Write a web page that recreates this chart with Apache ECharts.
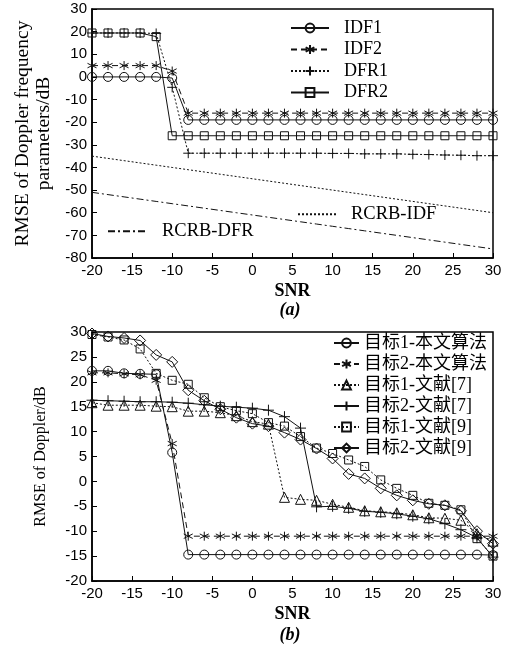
<!DOCTYPE html>
<html>
<head>
<meta charset="utf-8">
<script src="https://cdn.jsdelivr.net/npm/echarts@6/dist/echarts.min.js"></script>
<style>
html, body { margin: 0; padding: 0; background: #fff; }
#chart { width: 515px; height: 645px; }
</style>
</head>
<body>
<div id="chart"></div>
<script>
// SNR 采样点（两幅图共用）
const snr = [-20, -18, -16, -14, -12, -10, -8, -6, -4, -2, 0, 2, 4, 6, 8, 10, 12, 14, 16, 18, 20, 22, 24, 26, 28, 30];

// (a) 多普勒频率参数 RMSE
const idf1 = [0, 0, 0, 0, 0, -0.5, -19, -19, -19, -19, -19, -19, -19, -19, -19, -19, -19, -19, -19, -19, -19, -19, -19, -19, -19, -19];
const idf2 = [5, 5, 5, 5, 5, 2.6, -16, -16, -16, -16, -16, -16, -16, -16, -16, -16, -16, -16, -16, -16, -16, -16, -16, -16, -16, -16];
const dfr1 = [19.4, 19.4, 19.4, 19.4, 19.2, -4.6, -33.7, -33.7, -33.7, -33.7, -33.7, -33.7, -33.7, -33.7, -33.7, -33.8, -33.8, -34, -34, -34, -34.2, -34.3, -34.5, -34.6, -34.8, -34.8];
const dfr2 = [19.4, 19.4, 19.4, 19.4, 17.8, -26, -26, -26, -26, -26, -26, -26, -26, -26, -26, -26, -26, -26, -26, -26, -26, -26, -26, -26, -26, -26];
const rcrbIdf = [-35, -36, -37, -38, -39, -40, -41, -42, -43, -44, -45, -46, -47, -48, -49, -50, -51, -52, -53, -54, -55, -56, -57, -58, -59, -60];
const rcrbDfr = [-51, -52, -53, -54, -55, -56, -57, -58, -59, -60, -61, -62, -63, -64, -65, -66, -67, -68, -69, -70, -71, -72, -73, -74, -75, -76];

// (b) 多普勒 RMSE
const t1Ours = [22.2, 22.2, 21.7, 21.6, 21.5, 5.8, -14.7, -14.7, -14.7, -14.7, -14.7, -14.7, -14.7, -14.7, -14.7, -14.7, -14.7, -14.7, -14.7, -14.7, -14.7, -14.7, -14.7, -14.7, -14.7, -14.8];
const t2Ours = [21.8, 21.8, 21.6, 21.4, 20.3, 7.6, -11, -11, -11, -11, -11, -11, -11, -11, -11, -11, -11, -11, -11, -11, -11, -11, -11, -11, -11, -11];
const t1Ref7 = [15.8, 15.3, 15.3, 15.3, 15.1, 15.0, 14.1, 14.1, 13.8, 13.2, 12.0, 11.5, -3.2, -3.6, -3.8, -4.6, -5.2, -5.9, -6.1, -6.3, -6.7, -7.3, -7.4, -7.8, -10.5, -12.0];
const t2Ref7 = [16.3, 16.2, 16.1, 16.0, 16.0, 15.9, 15.7, 15.4, 15.1, 14.9, 14.7, 14.3, 13.0, 10.7, -5.1, -5.0, -5.4, -6.0, -6.2, -6.5, -7.0, -7.5, -8.5, -9.7, -11.3, -15.2];
const t1Ref9 = [29.5, 29.0, 28.4, 26.6, 21.7, 20.3, 19.5, 16.8, 15.0, 14.2, 13.6, 11.8, 11.1, 9.0, 6.7, 5.6, 4.3, 3.0, 0.3, -1.4, -2.8, -4.4, -4.8, -5.7, -11.5, -15.0];
const t2Ref9 = [29.7, 29.1, 28.8, 28.3, 25.4, 24.0, 18.3, 16.2, 14.5, 12.8, 11.6, 11.1, 9.8, 8.4, 6.6, 4.6, 1.5, 0.6, -1.4, -2.8, -3.8, -4.5, -4.8, -5.9, -10.0, -12.5];

const namesA = ['IDF1', 'IDF2', 'DFR1', 'DFR2'];
const namesB = ['目标1-本文算法', '目标2-本文算法', '目标1-文献[7]', '目标2-文献[7]', '目标1-文献[9]', '目标2-文献[9]'];

const PLUS = 'path://M5,0L5,10M0,5L10,5';
const STAR = 'path://M5,0L5,10M0.7,2.5L9.3,7.5M9.3,2.5L0.7,7.5';

const SERIF = '"Liberation Serif", "Noto Sans CJK SC", serif';
const SANS = '"Liberation Sans", Arial, sans-serif';
const INK = '#111';

function line(name, values, idx, symbol, size, type) {
    const bare = symbol === 'none'; // 无标记的界线，图例中也不画标记
    return {
        name: name,
        type: 'line',
        xAxisIndex: idx,
        yAxisIndex: idx,
        data: snr.map((s, i) => [s, values[i]]),
        symbol: bare ? 'circle' : symbol,
        symbolSize: size,
        showSymbol: !bare,
        lineStyle: { color: INK, width: 1, type: type },
        itemStyle: { color: 'rgba(255,255,255,0)', borderColor: bare ? 'rgba(0,0,0,0)' : INK, borderWidth: bare ? 0 : 1 },
        emphasis: { disabled: true },
        z: 3
    };
}

function axisX(idx) {
    return {
        type: 'value', gridIndex: idx, min: -20, max: 30, interval: 5,
        name: 'SNR', nameLocation: 'middle', nameGap: 24,
        nameTextStyle: { fontFamily: SERIF, fontWeight: 'bold', fontSize: 18, color: '#000', lineHeight: 18 },
        axisLine: { onZero: false, lineStyle: { color: '#000', width: 1.5 } },
        axisTick: { inside: true, length: 5, lineStyle: { color: '#000' } },
        axisLabel: { fontFamily: SANS, fontSize: 15, color: '#000', margin: 5 },
        splitLine: { show: false }
    };
}

function axisY(idx, min, max, interval, name, gap, size, lh) {
    return {
        type: 'value', gridIndex: idx, min: min, max: max, interval: interval,
        name: name, nameLocation: 'middle', nameGap: gap,
        nameTextStyle: { fontFamily: SERIF, fontSize: size, color: '#000', lineHeight: lh },
        axisLine: { onZero: false, lineStyle: { color: '#000', width: 1.5 } },
        axisTick: { inside: true, length: 5, lineStyle: { color: '#000' } },
        axisLabel: { fontFamily: SANS, fontSize: 15, color: '#000', margin: 5 },
        splitLine: { show: false }
    };
}

function legendText(size, pad) {
    return { fontFamily: SERIF, fontSize: size, color: '#000', lineHeight: size, padding: [0, 0, 0, pad] };
}

const chart = echarts.init(document.getElementById('chart'), null, { renderer: 'canvas' });

chart.setOption({
    animation: false,
    backgroundColor: '#fff',
    grid: [
        { left: 92, top: 9, width: 401, height: 249, show: true, borderColor: '#000', borderWidth: 1.5, backgroundColor: 'transparent' },
        { left: 92, top: 332, width: 401, height: 249, show: true, borderColor: '#000', borderWidth: 1.5, backgroundColor: 'transparent' }
    ],
    xAxis: [axisX(0), axisX(1)],
    yAxis: [
        axisY(0, -80, 30, 10, 'RMSE of Doppler frequency\nparameters/dB', 38, 19.5, 21),
        axisY(1, -20, 30, 5, 'RMSE of Doppler/dB', 42, 16, 18)
    ],
    legend: [
        {
            data: namesA, orient: 'vertical', left: 290, top: 19, padding: 0,
            itemWidth: 38, itemHeight: 11, itemGap: 3.5, selectedMode: false,
            textStyle: legendText(18, 10)
        },
        {
            data: ['RCRB-IDF'], left: 297, top: 205, padding: 0,
            itemWidth: 38, itemHeight: 11, selectedMode: false,
            textStyle: legendText(18.5, 10)
        },
        {
            data: ['RCRB-DFR'], left: 107, top: 222, padding: 0,
            itemWidth: 39, itemHeight: 11, selectedMode: false,
            textStyle: legendText(18.5, 10)
        },
        {
            data: namesB, orient: 'vertical', left: 333, top: 334, padding: 0,
            itemWidth: 25, itemHeight: 11, itemGap: 3, selectedMode: false,
            textStyle: legendText(18, 0)
        }
    ],
    graphic: [
        { type: 'text', style: { text: '(a)', x: 290, y: 310, textAlign: 'center', textVerticalAlign: 'middle', font: 'italic bold 18px "Liberation Serif"', fill: '#000' } },
        { type: 'text', style: { text: '(b)', x: 290, y: 635, textAlign: 'center', textVerticalAlign: 'middle', font: 'italic bold 18px "Liberation Serif"', fill: '#000' } }
    ],
    series: [
        line('IDF1', idf1, 0, 'circle', 9, 'solid'),
        line('IDF2', idf2, 0, STAR, 9, [6, 4]),
        line('DFR1', dfr1, 0, PLUS, 10, [2, 2]),
        line('DFR2', dfr2, 0, 'rect', 8, 'solid'),
        line('RCRB-IDF', rcrbIdf, 0, 'none', 0, [2, 2]),
        line('RCRB-DFR', rcrbDfr, 0, 'none', 0, [7, 3, 2, 3]),
        line(namesB[0], t1Ours, 1, 'circle', 9, 'solid'),
        line(namesB[1], t2Ours, 1, STAR, 9, [6, 4]),
        line(namesB[2], t1Ref7, 1, 'triangle', 10, [2, 2]),
        line(namesB[3], t2Ref7, 1, PLUS, 11, 'solid'),
        line(namesB[4], t1Ref9, 1, 'rect', 8, [2, 2]),
        line(namesB[5], t2Ref9, 1, 'diamond', 11, 'solid')
    ]
});
</script>
</body>
</html>
